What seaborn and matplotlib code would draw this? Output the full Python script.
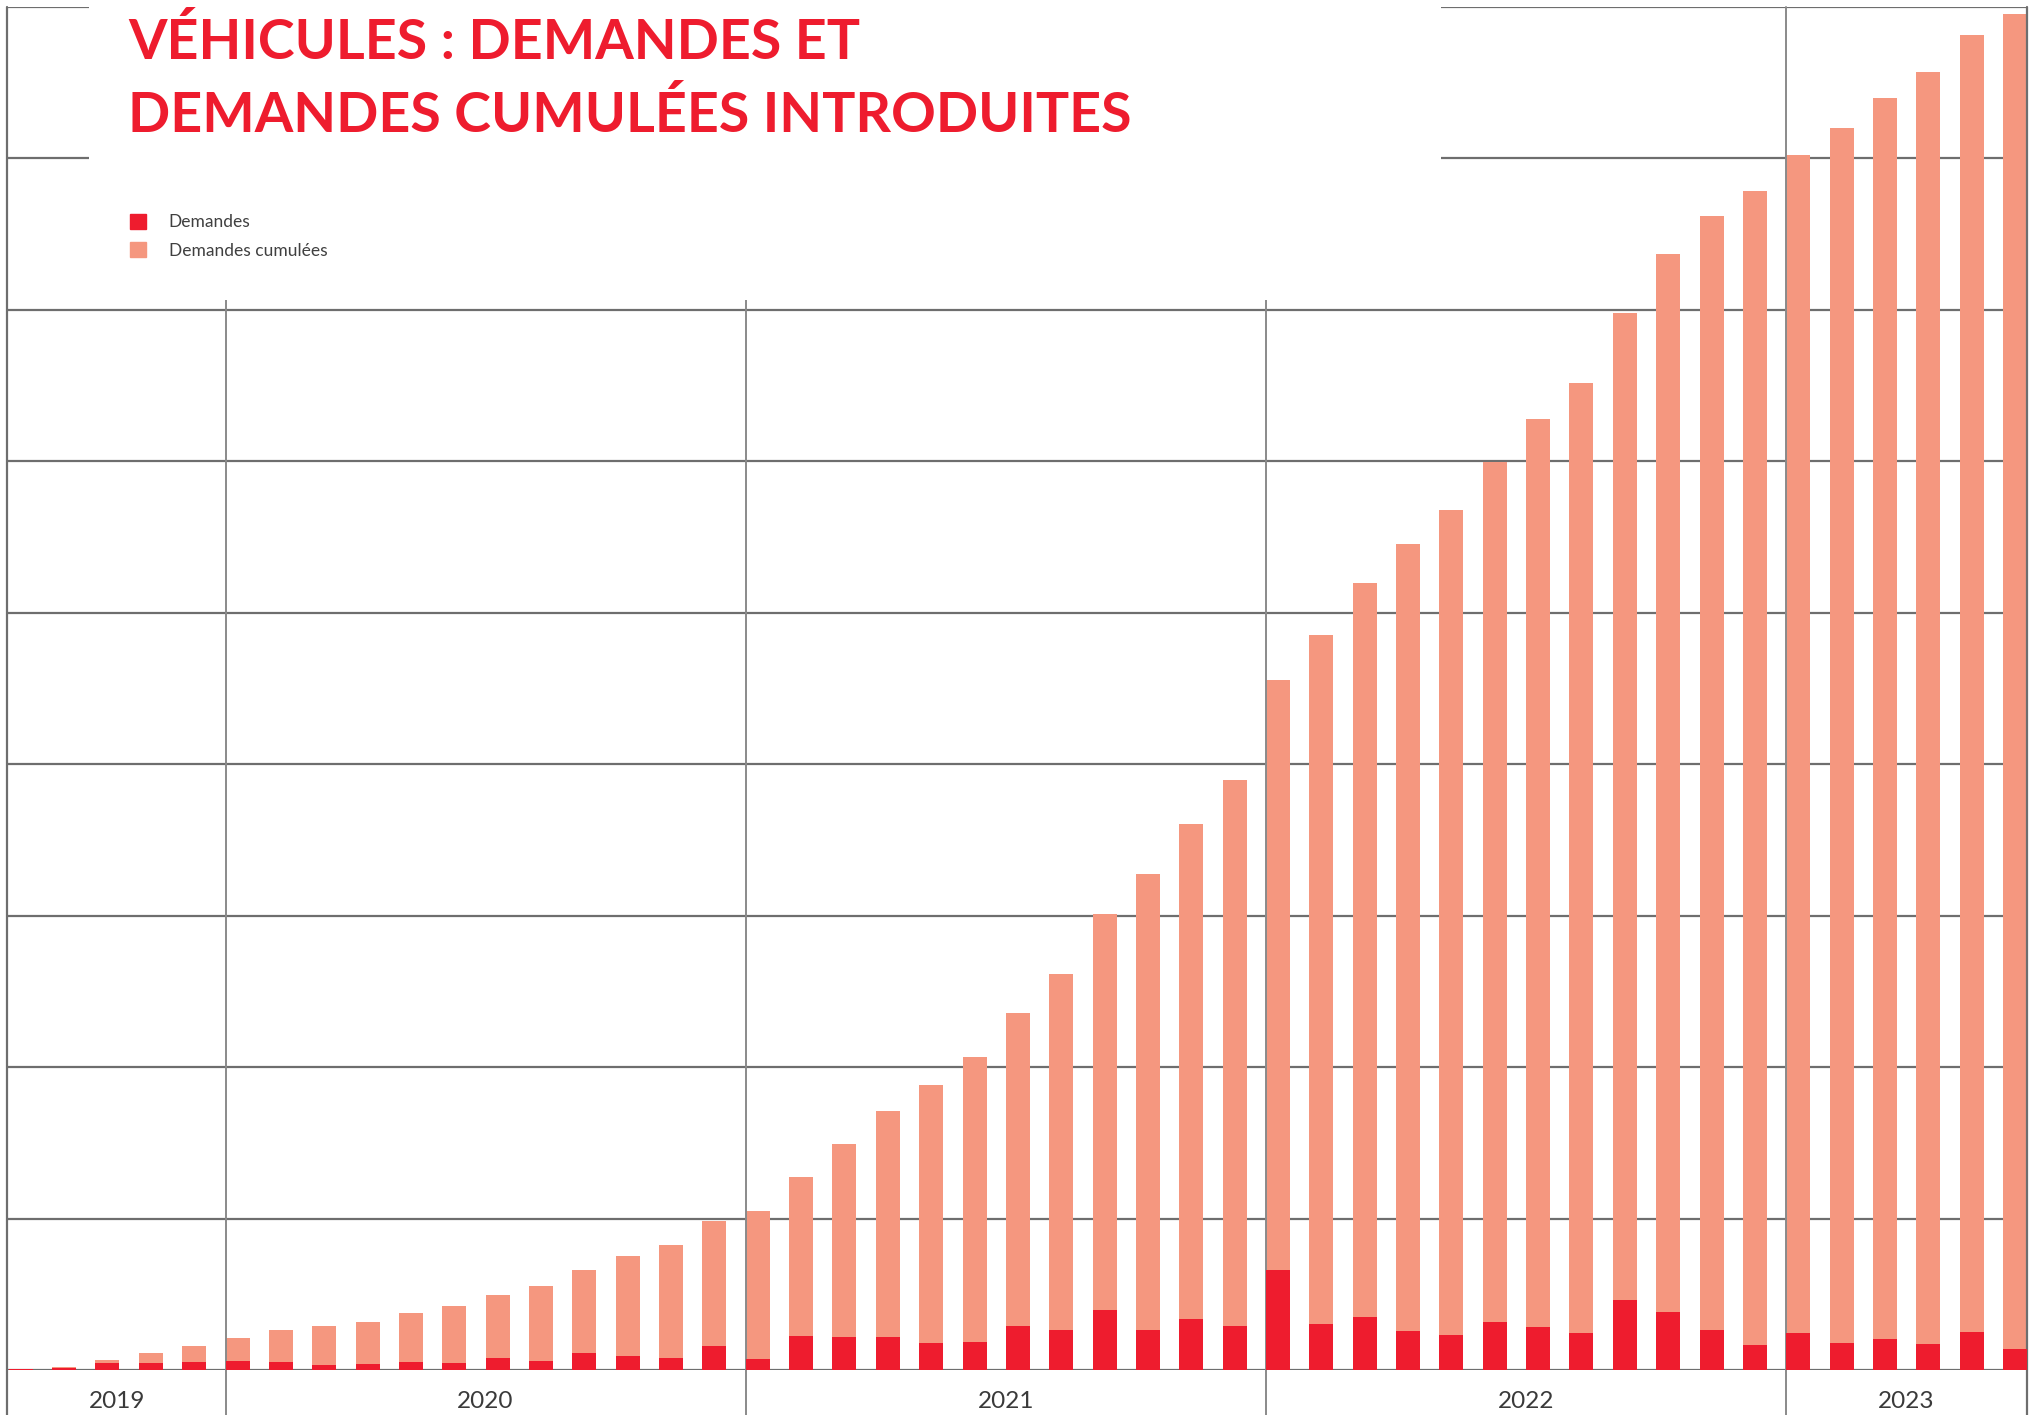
import numpy as np
import pandas as pd
import seaborn as sns
import matplotlib.pyplot as plt
from matplotlib.patches import Patch, Rectangle
from matplotlib.transforms import blended_transform_factory

# valeurs (unite arbitraire, 100 = un trait de grille)
mois = pd.period_range("2019-08", "2023-06", freq="M").astype(str)
annees = ["2019", "2020", "2021", "2022", "2023"]
nb_mois = [5, 12, 12, 12, 6]

demandes = [0.9, 1.3, 4.6, 4.6, 5.3,
            6.0, 5.3, 3.3, 4.0, 5.3, 4.6, 7.9, 6.0, 11.2, 9.2, 7.9, 16.0,
            7.3, 22.5, 21.8, 21.8, 18.0, 18.7, 29.0, 26.4, 39.6, 26.4, 33.7, 29.0,
            66.3, 30.6, 35.0, 25.8, 23.1, 31.7, 28.4, 24.4, 46.2, 38.3, 26.4, 16.5,
            24.4, 17.8, 20.5, 17.2, 25.1, 13.9]

cumul = [0.9, 2.0, 6.6, 11.2, 16.0,
         21.0, 26.4, 29.0, 32.0, 37.6, 42.0, 49.5, 55.5, 66.0, 75.3, 82.6, 98.4,
         105.0, 127.5, 149.3, 171.1, 188.2, 206.7, 235.8, 261.5, 301.4, 327.6, 360.6, 389.7,
         455.6, 485.3, 519.7, 545.6, 568.0, 599.7, 628.0, 651.9, 698.2, 736.6, 762.3, 778.8,
         802.5, 820.0, 840.0, 857.3, 881.7, 895.6]

df = pd.DataFrame({"mois": mois, "demandes": demandes, "cumul": cumul})

ROUGE = "#ee1c2e"
ROSE = "#f5977f"
GRIS = "#6e6e6e"
W = 0.554

sns.set_style("white")
plt.rcParams["font.family"] = ["Lato", "DejaVu Sans"]

fig = plt.figure(figsize=(20.44, 14.15), dpi=100)
ax = fig.add_axes([7 / 2044, 45 / 1415, 2020 / 2044, 1363 / 1415])

sns.barplot(data=df, x="mois", y="cumul", color=ROSE, saturation=1, width=W,
            linewidth=0, ax=ax, zorder=2)
sns.barplot(data=df, x="mois", y="demandes", color=ROUGE, saturation=1, width=W,
            linewidth=0, ax=ax, zorder=3)

x0 = -W / 2 - 0.04
x1 = len(df) - 1 + W / 2
ax.set_xlim(x0, x1)
ax.set_ylim(0, 900)
ax.set_yticks(np.arange(0, 901, 100))
ax.grid(axis="y", color=GRIS, lw=1.6, zorder=0)
ax.set_axisbelow(True)
ax.tick_params(left=False, bottom=False, labelleft=False, labelbottom=False)
ax.set_xlabel("")
ax.set_ylabel("")
for s in ax.spines.values():
    s.set_visible(False)

# cadres verticaux et separations des annees
bas = -45 / 1363
ax.axvline(x0, ymin=bas, ymax=1, color=GRIS, lw=1.6, clip_on=False)
ax.axvline(x1, ymin=bas, ymax=1, color=GRIS, lw=1.6, clip_on=False)

trans = blended_transform_factory(ax.transData, ax.transAxes)
debut = -W / 2
for i, (an, n) in enumerate(zip(annees, nb_mois)):
    fin = min(debut + n, x1)
    if i > 0:
        ax.axvline(debut, ymin=bas, ymax=1, color="#8a8a8a", lw=1.4, clip_on=False)
    ax.text((debut + fin) / 2, -31 / 1363, an, transform=trans, ha="center", va="center",
            fontsize=17.5, color="#3a3a3a")
    debut += n

# bloc blanc du titre
fig.add_artist(Rectangle((89 / 2044, 1 - 300 / 1415), (1441 - 89) / 2044, 300 / 1415,
                         transform=fig.transFigure, facecolor="white", edgecolor="none", zorder=5))

fig.text(128 / 2044, 1 - 42 / 1415, "VÉHICULES : DEMANDES ET", color=ROUGE,
         fontsize=40, fontweight="bold", va="center", ha="left", zorder=6)
fig.text(128 / 2044, 1 - 115 / 1415, "DEMANDES CUMULÉES INTRODUITES", color=ROUGE,
         fontsize=40, fontweight="bold", va="center", ha="left", zorder=6)

fig.legend(handles=[Patch(color=ROUGE, label="Demandes"),
                    Patch(color=ROSE, label="Demandes cumulées")],
           loc="upper left", bbox_to_anchor=(114 / 2044, 1 - 198 / 1415), frameon=False,
           fontsize=12.5, handlelength=0.95, handleheight=0.95, handletextpad=1.3,
           labelspacing=0.7, labelcolor="#404040").set_zorder(7)

fig.savefig("out.png", dpi=100)
